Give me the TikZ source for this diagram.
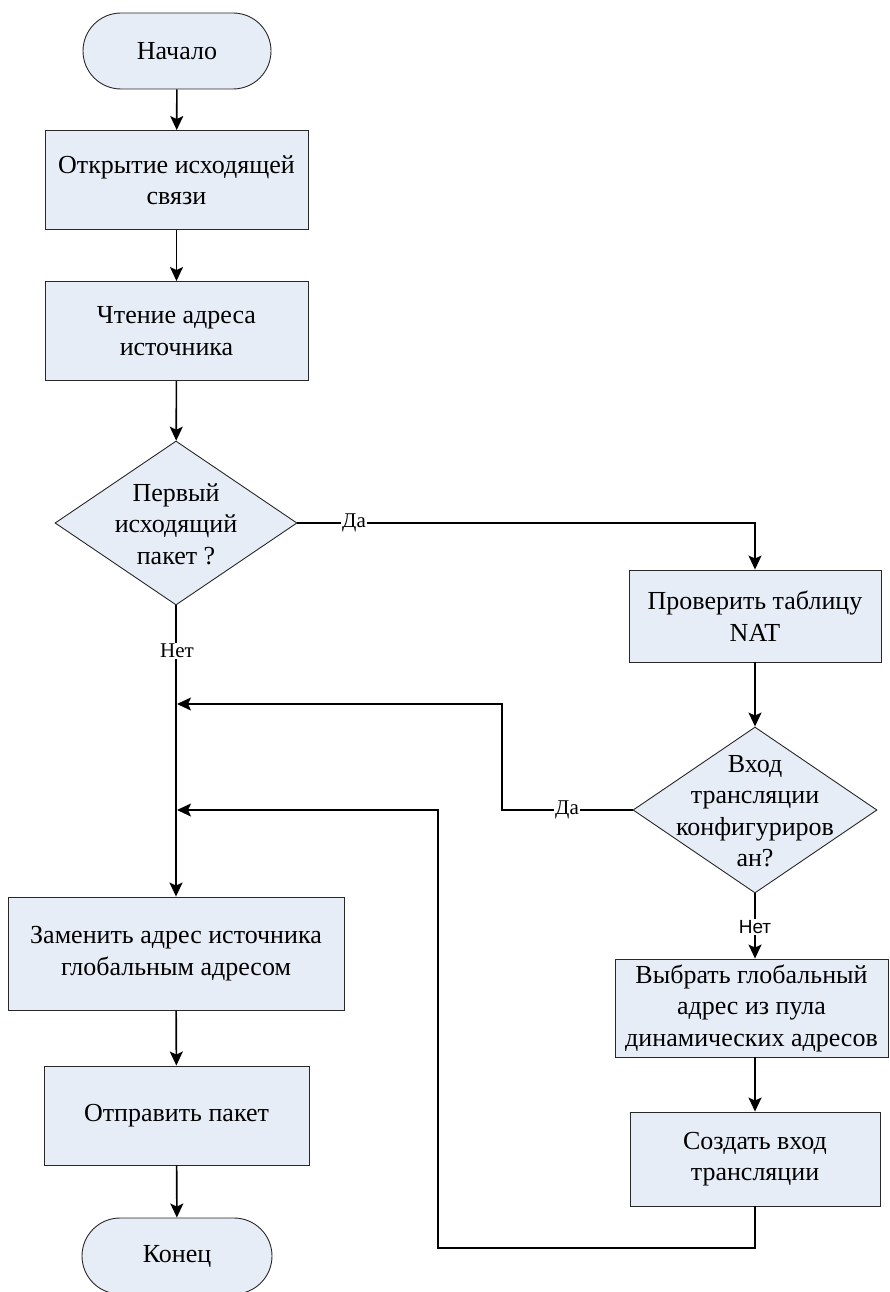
\documentclass[tikz,border=0pt]{standalone}
\usepackage{fontspec}
\setmainfont{Liberation Serif}
\newfontfamily\arialfont{Liberation Sans}
\usetikzlibrary{shapes.geometric,arrows.meta}
\definecolor{boxfill}{RGB}{231,237,247}
\definecolor{boxline}{RGB}{40,40,40}
\tikzset{
  base/.style={draw=boxline, line width=0.9pt, fill=boxfill, inner sep=0pt,
    font=\fontsize{26}{31.5}\selectfont, align=center},
  proc/.style={base, rectangle},
  term/.style={base, rectangle, rounded corners=38pt},
  dec/.style={base, diamond},
  txt/.style={font=\fontsize{26}{31.5}\selectfont, align=center, inner sep=0pt},
  lab/.style={fill=white, inner sep=1pt, font=\fontsize{21}{24}\selectfont},
  labsans/.style={fill=white, inner sep=1pt, font=\arialfont\fontsize{19}{22}\selectfont},
  conn/.style={line width=1.6pt, black},
  arr/.style={conn, -{Stealth[length=14pt,width=13pt,inset=3pt]}},
}
\begin{document}
\begin{tikzpicture}[x=1pt,y=-1pt]
\useasboundingbox (0,0) rectangle (889,1292);
% left column
\node[term, minimum width=188pt, minimum height=76pt] (start) at (177,51) {Начало};
\node[proc, minimum width=263pt, minimum height=99pt] (b1) at (176.5,180) {Открытие исходящей\\связи};
\node[proc, minimum width=263pt, minimum height=99pt] (b2) at (176.5,331) {Чтение адреса\\источника};
\node[dec, minimum width=242pt, minimum height=164pt] (d1) at (176,523) {};
\node[txt] (d1t) at (176,524) {Первый\\исходящий\\пакет ?};
\node[proc, minimum width=336pt, minimum height=113pt] (zam) at (176,953.5) {Заменить адрес источника\\глобальным адресом};
\node[proc, minimum width=265pt, minimum height=99pt] (send) at (176.5,1115.5) {Отправить пакет};
\node[term, minimum width=190pt, minimum height=76pt] (end) at (177,1256) {Конец};
% right column
\node[proc, minimum width=252pt, minimum height=92pt] (r1) at (755,616) {Проверить таблицу\\NAT};
\node[dec, minimum width=244pt, minimum height=166pt] (d2) at (755,810) {};
\node[txt] (d2t) at (755,811) {Вход\\трансляции\\конфигуриров\\ан?};
\node[proc, minimum width=273pt, minimum height=98pt] (r2) at (751.5,1008) {Выбрать глобальный\\адрес из пула\\динамических адресов};
\node[proc, minimum width=250pt, minimum height=94pt] (r3) at (755,1159) {Создать вход\\трансляции};
% coordinates
\coordinate (c1) at (755,523);
\coordinate (m1) at (177,704);
\coordinate (m2) at (177,810);
\coordinate (k1) at (502,810);
\coordinate (k2) at (502,704);
\coordinate (q1) at (755,1248);
\coordinate (q2) at (438,1248);
\coordinate (q3) at (438,810);
% connectors
\draw[arr] (start) -- (b1);
\draw[arr] (b1) -- (b2);
\draw[arr] (b2) -- (d1);
\draw[arr] (d1.east) -- (c1) -- (r1.north);
\node[lab] at (354,523) {Да};
\draw[arr] (d1.south) -- (zam.north -| d1.south);
\node[lab] at (177,651) {Нет};
\draw[arr] (r1) -- (d2);
\draw[arr] (d2.west) -- (k1) -- (k2) -- (m1);
\node[lab] at (567,810) {Да};
\draw[arr] (d2.south) -- (r2.north -| d2.south);
\node[labsans] at (755,927) {Нет};
\draw[arr] (r2.south -| r3.north) -- (r3.north);
\draw[arr] (r3.south) -- (q1) -- (q2) -- (q3) -- (m2);
\draw[arr] (zam) -- (send);
\draw[arr] (send) -- (end);
\end{tikzpicture}
\end{document}
